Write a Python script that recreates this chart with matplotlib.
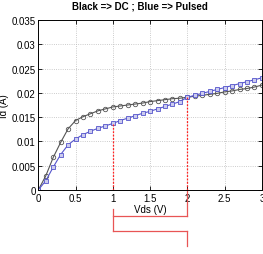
import matplotlib
matplotlib.use("Agg")
import matplotlib.pyplot as plt

plt.rcParams['font.family'] = ['Liberation Sans', 'DejaVu Sans']

# drain voltage sweep (V)
vds = [0.0, 0.1, 0.2, 0.3, 0.4, 0.5, 0.6, 0.7, 0.8, 0.9, 1.0,
       1.1, 1.2, 1.3, 1.4, 1.5, 1.6, 1.7, 1.8, 1.9, 2.0,
       2.1, 2.2, 2.3, 2.4, 2.5, 2.6, 2.7, 2.8, 2.9, 3.0]

# DC measurement (A)
id_dc = [0.0, 0.0029, 0.0067, 0.0098, 0.0126, 0.0143, 0.0151, 0.0157, 0.0163, 0.0167, 0.0171,
         0.0173, 0.0175, 0.0177, 0.0179, 0.0182, 0.0184, 0.0186, 0.0188, 0.0189, 0.0191,
         0.0193, 0.0195, 0.0197, 0.0199, 0.0202, 0.0204, 0.0207, 0.0209, 0.0212, 0.0216]

# pulsed measurement (A)
id_pulsed = [0.0, 0.0019, 0.0047, 0.0073, 0.0093, 0.0105, 0.0114, 0.0121, 0.0127, 0.0132, 0.0137,
             0.0143, 0.0148, 0.0153, 0.0158, 0.0162, 0.0167, 0.0172, 0.0177, 0.0182, 0.0191,
             0.0195, 0.0199, 0.0203, 0.0207, 0.0211, 0.0215, 0.0219, 0.0223, 0.0227, 0.0231]

# bias points marked in red
marks = [1.0, 2.0]
mark_levels = [0.0137, 0.0191]

fig = plt.figure(figsize=(2.63, 2.55), dpi=100)
ax = fig.add_axes([0.1456, 0.251, 0.8504, 0.6666])

ax.plot(vds, id_dc, color="#555555", lw=0.8, marker="o", ms=3.2,
        mfc="none", mec="#555555", mew=0.6)
ax.plot(vds, id_pulsed, color="#5555cc", lw=0.8, marker="s", ms=2.6,
        mfc="#ccccee", mec="#5555cc", mew=0.6)

for x, lev in zip(marks, mark_levels):
    ax.plot([x, x], [0, lev], color="#ff2020", lw=0.9, ls=(0, (1.5, 1.2)), zorder=3)

# bracket drawn below the axes
red = "#e85555"
ax.plot([1, 1], [-0.0040, -0.0085], color=red, lw=0.9, clip_on=False)
ax.plot([2, 2], [0, -0.0054], color=red, lw=0.9, clip_on=False)
ax.plot([1, 2], [-0.0054, -0.0054], color=red, lw=0.9, clip_on=False)
ax.plot([1, 2], [-0.0085, -0.0085], color=red, lw=0.9, clip_on=False)
ax.plot([2, 2], [-0.0085, -0.0115], color=red, lw=0.9, clip_on=False)

ax.set_xlim(0, 3)
ax.set_ylim(0, 0.035)
ax.set_xticks([0, 0.5, 1, 1.5, 2, 2.5, 3])
ax.set_xticklabels(["0", "0.5", "1", "1.5", "2", "2.5", "3"])
ax.set_yticks([0, 0.005, 0.01, 0.015, 0.02, 0.025, 0.03, 0.035])
ax.set_yticklabels(["0", "0.005", "0.01", "0.015", "0.02", "0.025", "0.03", "0.035"])
ax.tick_params(direction="in", labelsize=7, length=3, width=0.6, pad=2, top=True, right=True)
ax.grid(True, ls=":", color="#bbbbbb", lw=0.6)
for s in ax.spines.values():
    s.set_linewidth(0.7)

ax.set_xlabel("Vds (V)", fontsize=7, labelpad=1)
ax.set_ylabel("Id (A)", fontsize=7, labelpad=2)
ax.set_title("Black => DC ; Blue => Pulsed", fontsize=7, fontweight="bold", pad=8, x=0.455)

fig.savefig("out.png", dpi=100)
